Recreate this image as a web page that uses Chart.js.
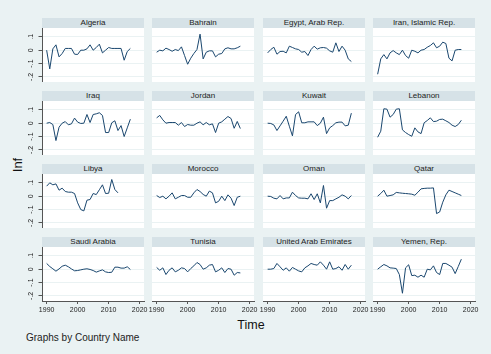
<!DOCTYPE html>
<html>
<head>
<meta charset="utf-8">
<script src="https://cdn.jsdelivr.net/npm/chart.js@4.4.0/dist/chart.umd.min.js"></script>
<style>
  body { margin: 0; background: #eaf2f3; }
  #wrap { position: relative; width: 491px; height: 354px; overflow: hidden; font-family: "Liberation Sans", Arial, sans-serif; }
  .strip { position: absolute; background: #d6e2e7; color: #222; font-size: 8px; text-align: center; white-space: nowrap; }
  canvas { position: absolute; }
  .lbl { position: absolute; color: #111; white-space: nowrap; }
</style>
</head>
<body>
<div id="wrap">
  <div class="lbl" style="left:16.7px;top:165px;font-size:13px;line-height:13px;transform:translate(-50%,-50%) rotate(-90deg);">Inf</div>
  <div class="lbl" style="left:251px;top:318.7px;font-size:12.5px;line-height:12.5px;transform:translateX(-50%);">Time</div>
  <div class="lbl" style="left:26px;top:332.5px;font-size:10px;line-height:10px;color:#222;">Graphs by Country Name</div>
</div>
<script>
// inflation by country, 1990-2017
const years = [1990, 1991, 1992, 1993, 1994, 1995, 1996, 1997, 1998, 1999,
  2000, 2001, 2002, 2003, 2004, 2005, 2006, 2007, 2008, 2009,
  2010, 2011, 2012, 2013, 2014, 2015, 2016, 2017];
const xTicks = [1990, 2000, 2010, 2020];
const yTicks = [-0.2, -0.1, 0, 0.1];
const yTickLabels = ["-.2", "-.1", "0", ".1"];

const countries = ["Algeria", "Bahrain", "Egypt, Arab Rep.", "Iran, Islamic Rep.",
  "Iraq", "Jordan", "Kuwait", "Lebanon",
  "Libya", "Morocco", "Oman", "Qatar",
  "Saudi Arabia", "Tunisia", "United Arab Emirates", "Yemen, Rep."];

const algeria = [0, -0.14, 0.01, 0.04, -0.05, -0.025, 0.013, 0.013, 0.013, -0.03, -0.032, 0, 0, 0.01, 0.04, 0, 0.02, 0.045, -0.02, 0, 0.02, 0.013, 0.013, 0.013, 0.013, -0.075, -0.01, 0.013];
const bahrain = [-0.015, 0, -0.005, 0.015, 0.005, -0.008, 0.005, -0.003, 0.025, -0.04, -0.105, -0.06, -0.025, 0.005, 0.12, -0.065, -0.015, -0.005, -0.005, -0.05, -0.03, -0.025, 0.01, 0.018, 0.01, 0.01, 0.018, 0.03];
const egypt = [-0.02, 0.005, 0.022, -0.03, -0.01, -0.008, -0.02, 0.03, 0.02, 0.01, 0.005, -0.015, -0.01, -0.04, 0.005, 0.03, 0.008, 0.018, 0.02, 0.015, -0.005, -0.015, 0.055, -0.01, 0.03, 0, -0.065, -0.085];
const iran = [-0.18, -0.065, -0.033, -0.065, -0.02, -0.003, -0.02, -0.033, 0, -0.04, -0.06, 0, -0.008, -0.02, 0, 0.005, 0.022, 0.035, 0.055, 0.018, 0.03, 0.06, 0.05, -0.06, -0.08, 0, 0.005, 0.005];
const iraq = [0, 0.005, -0.01, -0.13, -0.03, 0, 0.012, -0.012, -0.005, 0.038, 0.008, -0.002, 0, 0.065, 0.005, 0.065, 0.07, 0.078, 0.058, -0.07, -0.07, 0.003, 0.018, -0.055, -0.018, -0.1, -0.035, 0.03];
const jordan = [0.04, 0.058, 0.025, 0, 0.005, 0.005, 0.005, -0.015, 0.005, -0.025, -0.01, -0.015, -0.015, 0, 0.01, -0.012, 0.005, -0.012, -0.005, -0.07, 0, 0.01, 0.03, 0.05, 0.035, -0.038, 0.013, -0.04];
const kuwait = [0, -0.002, -0.013, -0.055, -0.02, 0.015, 0.052, -0.023, -0.095, 0.065, 0.085, 0.003, 0.003, 0.01, 0.01, 0.01, -0.018, 0, 0.045, -0.078, -0.035, -0.018, 0.003, 0.008, 0.008, -0.02, -0.015, 0.075];
const lebanon = [-0.105, -0.06, 0.108, 0.105, 0.045, 0.065, 0.105, 0.108, -0.05, -0.07, -0.085, -0.098, -0.035, -0.065, -0.078, 0.003, 0.02, 0.04, 0.012, 0.015, 0.028, 0.03, 0.018, 0.005, -0.015, -0.025, -0.01, 0.022];
const libya = [0.075, 0.1, 0.085, 0.092, 0.045, 0.06, 0.035, 0.03, 0.03, 0.02, -0.05, -0.1, -0.11, -0.03, -0.025, 0.02, 0.012, 0.048, 0.085, 0.02, 0.022, 0.125, 0.05, 0.025, null, null, null, null];
const morocco = [0.005, -0.01, 0, -0.02, 0, 0.025, -0.02, -0.008, 0.005, 0.005, -0.008, -0.008, 0.025, 0.05, 0.035, 0.013, 0, 0.038, 0.025, -0.05, -0.038, 0, -0.033, 0.01, -0.015, -0.07, -0.008, 0];
const oman = [0, -0.002, -0.015, -0.02, 0.005, -0.02, -0.013, -0.013, 0.03, 0.005, -0.013, -0.015, -0.015, -0.02, 0.018, -0.025, 0.018, -0.05, 0.08, -0.09, -0.033, -0.033, -0.02, -0.008, 0.01, 0, -0.02, 0.005];
const qatar = [0, 0.02, 0.045, 0, 0.005, 0.01, 0.028, 0.025, 0.022, 0.02, 0.018, 0.015, 0.007, 0.03, 0.055, 0.058, 0.06, 0.06, 0.062, -0.13, -0.118, -0.045, 0.01, 0.045, 0.035, 0.025, 0.015, 0.005];
const saudi = [0.043, 0.02, 0.003, -0.015, 0.002, 0.022, 0.03, 0.018, 0.002, -0.012, -0.01, -0.005, 0, 0.003, -0.002, -0.01, -0.022, -0.013, -0.005, -0.02, -0.025, -0.023, 0.015, 0.015, 0.008, 0.008, 0.018, -0.002];
const tunisia = [0.013, -0.008, 0.01, -0.04, -0.008, 0.01, -0.02, -0.008, 0.01, 0.005, -0.02, 0.005, 0.025, 0.05, 0.035, 0, 0.01, 0.03, 0.035, -0.02, -0.008, 0.01, -0.025, 0.005, 0, -0.045, -0.025, -0.028];
const uae = [0, 0, 0.005, 0.043, 0.018, -0.008, 0.01, -0.015, 0.013, 0, -0.013, -0.02, 0.01, 0.025, 0.043, 0.035, 0.03, 0.055, 0.03, 0, 0.055, 0, 0.005, 0.018, -0.008, 0.035, 0, 0.03];
const yemen = [0, 0.018, 0.035, 0.025, 0.01, 0.008, 0.005, -0.04, -0.18, 0.01, 0.033, -0.048, -0.045, -0.06, -0.045, -0.06, 0, -0.005, 0.025, -0.025, -0.04, 0.043, 0.043, 0.03, 0.015, -0.033, 0.02, 0.075];

const series = [algeria, bahrain, egypt, iran, iraq, jordan, kuwait, lebanon,
  libya, morocco, oman, qatar, saudi, tunisia, uae, yemen];

// panel layout
const colLeft = [42, 152, 263, 373];
const plotTop = [28, 101, 174, 247];
const PW = 102, PH = 54, M = 10, YW = 16, XH = 14;
const font = "'Liberation Sans', Arial, sans-serif";
const axisColor = "#555";
const gridColor = "#eaf2f3";

// white plot region
const plotBg = {
  id: "plotBg",
  beforeDraw(chart) {
    const a = chart.chartArea;
    chart.ctx.save();
    chart.ctx.fillStyle = "#fff";
    chart.ctx.fillRect(a.left, a.top, a.right - a.left, a.bottom - a.top);
    chart.ctx.restore();
  }
};

const wrap = document.getElementById("wrap");

countries.forEach((name, i) => {
  const r = Math.floor(i / 4), c = i % 4;
  const left = c === 0;
  const bottom = r === 3;

  const strip = document.createElement("div");
  strip.className = "strip";
  strip.style.left = colLeft[c] + "px";
  strip.style.top = (plotTop[r] - 10.5) + "px";
  strip.style.width = PW + "px";
  strip.style.height = "10.5px";
  strip.style.lineHeight = "10.5px";
  strip.textContent = name;
  wrap.appendChild(strip);

  const cv = document.createElement("canvas");
  const w = PW + 2 * M + (left ? YW : 0);
  const h = PH + (bottom ? XH : 0);
  cv.width = w;
  cv.height = h;
  cv.style.width = w + "px";
  cv.style.height = h + "px";
  cv.style.left = (colLeft[c] - M - (left ? YW : 0)) + "px";
  cv.style.top = plotTop[r] + "px";
  wrap.appendChild(cv);

  new Chart(cv, {
    type: "line",
    data: {
      datasets: [{
        data: years.map((yr, k) => ({ x: yr, y: series[i][k] })),
        borderColor: "#1a476f",
        borderWidth: 1,
        pointRadius: 0,
        tension: 0,
        fill: false
      }]
    },
    options: {
      responsive: false,
      animation: false,
      events: [],
      layout: { padding: { left: M, right: M, top: 0, bottom: 0 } },
      plugins: { legend: { display: false }, tooltip: { enabled: false } },
      scales: {
        x: {
          type: "linear",
          min: 1988.5,
          max: 2021.4,
          display: bottom,
          afterBuildTicks: (s) => { s.ticks = xTicks.map((v) => ({ value: v })); },
          afterFit: (s) => { s.height = bottom ? XH : 0; s.paddingLeft = 0; s.paddingRight = 0; },
          grid: { drawOnChartArea: false, drawTicks: true, tickLength: 3, tickColor: axisColor },
          border: { display: true, color: axisColor, width: 1 },
          ticks: {
            font: { size: 7, family: font },
            color: "#222",
            padding: 2,
            maxRotation: 0,
            autoSkip: false,
            callback: (v) => String(v)
          }
        },
        y: {
          min: -0.238,
          max: 0.166,
          afterBuildTicks: (s) => { s.ticks = yTicks.map((v) => ({ value: v })); },
          afterFit: (s) => { s.width = left ? YW : 0; s.paddingTop = 0; s.paddingBottom = 0; },
          grid: { color: gridColor, lineWidth: 1, drawTicks: left, tickLength: 3.5, tickColor: axisColor },
          border: { display: left, color: axisColor, width: 1 },
          ticks: {
            display: left,
            minRotation: 90,
            maxRotation: 90,
            crossAlign: "center",
            padding: 3,
            font: { size: 7, family: font },
            color: "#222",
            callback: (v, k) => yTickLabels[k]
          }
        }
      }
    },
    plugins: [plotBg]
  });
});
</script>
</body>
</html>
